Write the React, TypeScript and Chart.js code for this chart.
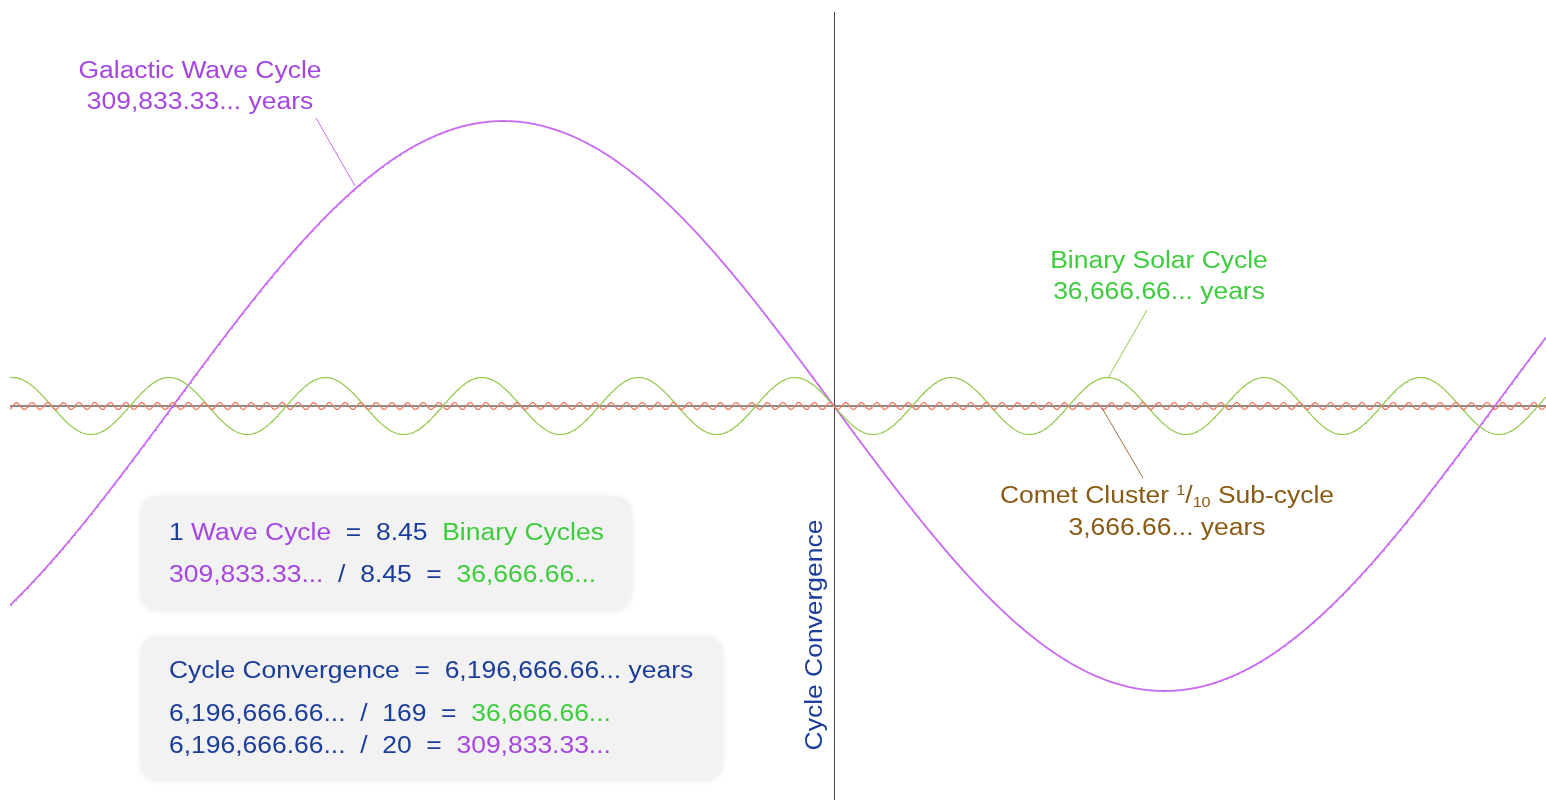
import React, { useEffect, useRef } from "react";
import { Chart, registerables } from "chart.js";

Chart.register(...registerables);

// ---- data ----
const cycleNames = ["Galactic Wave Cycle", "Binary Solar Cycle", "Comet Cluster Sub-cycle"];
const cyclePeriodsYears = [309833.333, 36666.667, 3666.667];
const cycleAmplitudes = [1, 0.1, 0.012];
const timeRangeYears = [-193100, 166900];
const sampleStepYears = 200;
const valueRange = [-1.3825, 1.3825];

const galacticLabel = ["Galactic Wave Cycle", "309,833.33... years"];
const binaryLabel = ["Binary Solar Cycle", "36,666.66... years"];
const cometLabel = ["3,666.66... years"];

const W = 1546;
const H = 800;
const FONT = '"Liberation Sans", Arial, sans-serif';
const BASE_SIZE = 23;
const STRETCH = 1.15;

const C_PURPLE_TXT = "#a646e0";
const C_PURPLE_LINE = "#c96af2";
const C_GREEN_TXT = "#3dcc3d";
const C_GREEN_LINE = "#92c84a";
const C_COMET_LINE = "#f0785a";
const C_BROWN = "#8a5a14";
const C_BLUE = "#1b3d99";

function sampleCycle(i: number) {
  const pts: { x: number; y: number }[] = [];
  for (let t = timeRangeYears[0]; t <= timeRangeYears[1]; t += sampleStepYears) {
    pts.push({ x: t, y: -cycleAmplitudes[i] * Math.sin((2 * Math.PI * t) / cyclePeriodsYears[i]) });
  }
  return pts;
}

type Seg = { text: string; color: string; size?: number; dy?: number };

function drawRich(ctx: CanvasRenderingContext2D, segs: Seg[], x: number, y: number, align: "left" | "center", rot = 0) {
  ctx.save();
  ctx.translate(x, y);
  if (rot) ctx.rotate(rot);
  ctx.scale(STRETCH, 1);
  ctx.textBaseline = "alphabetic";
  ctx.textAlign = "left";
  const widths = segs.map((s) => {
    ctx.font = `${s.size || BASE_SIZE}px ${FONT}`;
    return ctx.measureText(s.text).width;
  });
  const total = widths.reduce((a, b) => a + b, 0);
  let cx = align === "center" ? -total / 2 : 0;
  segs.forEach((s, i) => {
    ctx.font = `${s.size || BASE_SIZE}px ${FONT}`;
    ctx.fillStyle = s.color;
    ctx.fillText(s.text, cx, s.dy || 0);
    cx += widths[i];
  });
  ctx.restore();
}

function roundBox(ctx: CanvasRenderingContext2D, x: number, y: number, w: number, h: number, r: number) {
  ctx.save();
  ctx.beginPath();
  ctx.roundRect(x, y, w, h, r);
  ctx.shadowColor = "rgba(0,0,0,0.10)";
  ctx.shadowBlur = 6;
  ctx.fillStyle = "#f2f2f2";
  ctx.fill();
  ctx.restore();
}

function line(ctx: CanvasRenderingContext2D, x1: number, y1: number, x2: number, y2: number, color: string, w = 1) {
  ctx.save();
  ctx.strokeStyle = color;
  ctx.lineWidth = w;
  ctx.beginPath();
  ctx.moveTo(x1, y1);
  ctx.lineTo(x2, y2);
  ctx.stroke();
  ctx.restore();
}

const decorPlugin = {
  id: "decor",
  beforeDatasetsDraw(chart: any) {
    const ctx = chart.ctx as CanvasRenderingContext2D;
    const { left, right, top, bottom } = chart.chartArea;
    const x0 = chart.scales.x.getPixelForValue(0);
    const y0 = chart.scales.y.getPixelForValue(0);
    roundBox(ctx, 141, 497, 490, 113, 16);
    roundBox(ctx, 141, 637, 581, 143, 16);
    line(ctx, left, y0, right, y0, "#8a8a8a", 2);
    line(ctx, Math.round(x0) + 0.5, top, Math.round(x0) + 0.5, bottom, "#444444", 1);
  },
  afterDatasetsDraw(chart: any) {
    const ctx = chart.ctx as CanvasRenderingContext2D;
    line(ctx, 316, 118, 355, 186, C_PURPLE_LINE, 1);
    line(ctx, 1147, 310, 1108, 378, C_GREEN_LINE, 1);
    line(ctx, 1102, 408, 1143, 478, "#a07040", 1);

    drawRich(ctx, [{ text: galacticLabel[0], color: C_PURPLE_TXT }], 200, 78, "center");
    drawRich(ctx, [{ text: galacticLabel[1], color: C_PURPLE_TXT }], 200, 109, "center");
    drawRich(ctx, [{ text: binaryLabel[0], color: C_GREEN_TXT }], 1159, 268, "center");
    drawRich(ctx, [{ text: binaryLabel[1], color: C_GREEN_TXT }], 1159, 299, "center");
    drawRich(
      ctx,
      [
        { text: "Comet Cluster ", color: C_BROWN },
        { text: "1", color: C_BROWN, size: 14, dy: -8 },
        { text: "/", color: C_BROWN },
        { text: "10", color: C_BROWN, size: 14, dy: 4 },
        { text: " Sub-cycle", color: C_BROWN },
      ],
      1167,
      503,
      "center"
    );
    drawRich(ctx, [{ text: cometLabel[0], color: C_BROWN }], 1167, 535, "center");

    drawRich(
      ctx,
      [
        { text: "1 ", color: C_BLUE },
        { text: "Wave Cycle", color: C_PURPLE_TXT },
        { text: "  =  8.45  ", color: C_BLUE },
        { text: "Binary Cycles", color: C_GREEN_TXT },
      ],
      169,
      540,
      "left"
    );
    drawRich(
      ctx,
      [
        { text: "309,833.33...", color: C_PURPLE_TXT },
        { text: "  /  8.45  =  ", color: C_BLUE },
        { text: "36,666.66...", color: C_GREEN_TXT },
      ],
      169,
      582,
      "left"
    );
    drawRich(ctx, [{ text: "Cycle Convergence  =  6,196,666.66... years", color: C_BLUE }], 169, 678, "left");
    drawRich(
      ctx,
      [
        { text: "6,196,666.66...  /  169  =  ", color: C_BLUE },
        { text: "36,666.66...", color: C_GREEN_TXT },
      ],
      169,
      721,
      "left"
    );
    drawRich(
      ctx,
      [
        { text: "6,196,666.66...  /  20  =  ", color: C_BLUE },
        { text: "309,833.33...", color: C_PURPLE_TXT },
      ],
      169,
      753,
      "left"
    );
    drawRich(ctx, [{ text: "Cycle Convergence", color: C_BLUE }], 822, 635, "center", -Math.PI / 2);
  },
};

export default function App() {
  const ref = useRef<HTMLCanvasElement | null>(null);
  useEffect(() => {
    document.body.style.margin = "0";
    const canvas = ref.current!;
    const chart = new Chart(canvas, {
      type: "line",
      data: {
        datasets: [
          {
            label: cycleNames[2],
            data: sampleCycle(2),
            borderColor: C_COMET_LINE,
            borderWidth: 1.2,
            pointRadius: 0,
            tension: 0,
          },
          {
            label: cycleNames[1],
            data: sampleCycle(1),
            borderColor: C_GREEN_LINE,
            borderWidth: 1.2,
            pointRadius: 0,
            tension: 0,
          },
          {
            label: cycleNames[0],
            data: sampleCycle(0),
            borderColor: C_PURPLE_LINE,
            borderWidth: 1.8,
            pointRadius: 0,
            tension: 0,
          },
        ],
      },
      options: {
        responsive: false,
        animation: false,
        parsing: false,
        normalized: true,
        devicePixelRatio: 1,
        layout: { padding: { left: 10, top: 12, right: 0, bottom: 0 } },
        plugins: { legend: { display: false }, tooltip: { enabled: false } },
        scales: {
          x: { type: "linear", display: false, min: timeRangeYears[0], max: timeRangeYears[1] },
          y: { type: "linear", display: false, min: valueRange[0], max: valueRange[1] },
        },
      },
      plugins: [decorPlugin],
    });
    return () => chart.destroy();
  }, []);
  return (
    <div style={{ position: "fixed", left: 0, top: 0, width: W, height: H, background: "#fff" }}>
      <canvas ref={ref} width={W} height={H} style={{ width: W, height: H, display: "block" }} />
    </div>
  );
}
